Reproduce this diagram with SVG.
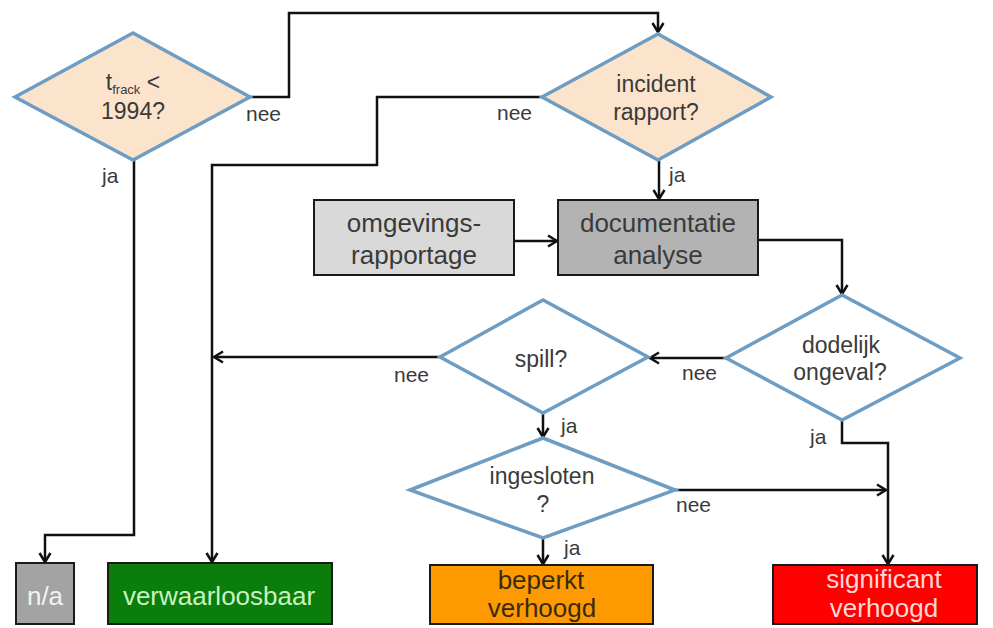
<svg xmlns="http://www.w3.org/2000/svg" width="993" height="628" viewBox="0 0 993 628">
  <style>
    text { font-family: "Liberation Sans", Arial, sans-serif; fill: #3a3a3a; }
    .dq { fill: #fce4cc; stroke: #6e9dc4; stroke-width: 3.5; stroke-linejoin: miter; }
    .dw { fill: #ffffff; stroke: #6e9dc4; stroke-width: 3.5; stroke-linejoin: miter; }
    .box { stroke: #1a1a1a; stroke-width: 2; }
    .dt { font-size: 23px; text-anchor: middle; }
    .bt { font-size: 26px; text-anchor: middle; }
    .lbl { font-size: 21px; }
    .conn path { fill: none; stroke: #111111; stroke-width: 2.5; marker-end: url(#arrow); }
  </style>
  <defs>
    <marker id="arrow" markerUnits="userSpaceOnUse" markerWidth="14" markerHeight="14" viewBox="0 0 14 14" refX="11" refY="7" orient="auto">
      <path d="M2,1.5 L11,7 L2,12.5" fill="none" stroke="#111111" stroke-width="2.5"/>
    </marker>
  </defs>

  <rect width="993" height="628" fill="#ffffff"/>

  <!-- connectors -->
  <g id="connectors" class="conn">
    <path d="M250,97 H289 V13 H658 V32"/>
    <path d="M542,97 H377 V165 H212 V562"/>
    <path d="M134,160 V535 H45 V562"/>
    <path d="M659,160 V199"/>
    <path d="M514,241 H557"/>
    <path d="M758,240 H842 V294"/>
    <path d="M726,358 H650"/>
    <path d="M440,357 H214"/>
    <path d="M543,413 V437"/>
    <path d="M675,490 H886"/>
    <path d="M543,538 V564"/>
    <path d="M842,420 V443 H888 V564"/>
  </g>

  <!-- connector labels -->
  <g id="labels">
    <text class="lbl" x="246" y="121">nee</text>
    <text class="lbl" x="102" y="183">ja</text>
    <text class="lbl" x="497" y="120">nee</text>
    <text class="lbl" x="669" y="182">ja</text>
    <text class="lbl" x="394" y="382">nee</text>
    <text class="lbl" x="561" y="433">ja</text>
    <text class="lbl" x="682" y="380">nee</text>
    <text class="lbl" x="810" y="444">ja</text>
    <text class="lbl" x="676" y="512">nee</text>
    <text class="lbl" x="564" y="555">ja</text>
  </g>

  <!-- decisions -->
  <g id="tfrack">
    <polygon class="dq" points="15,97 133,33 250,97 133,160"/>
    <text class="dt" x="133" y="90">t<tspan font-size="13" dy="4">frack</tspan><tspan dy="-4"> &lt;</tspan></text>
    <text class="dt" x="133" y="119">1994?</text>
  </g>
  <g id="incident">
    <polygon class="dq" points="542,97 658,34 771,97 658,160"/>
    <text class="dt" x="656" y="92">incident</text>
    <text class="dt" x="656" y="120">rapport?</text>
  </g>
  <g id="dodelijk">
    <polygon class="dw" points="726,358 842,295 960,358 842,420"/>
    <text class="dt" x="841" y="353">dodelijk</text>
    <text class="dt" x="840" y="380">ongeval?</text>
  </g>
  <g id="spill">
    <polygon class="dw" points="440,357 543,300 648,357 543,413"/>
    <text class="dt" x="541" y="367">spill?</text>
  </g>
  <g id="ingesloten">
    <polygon class="dw" points="410,490 543,438 675,490 543,538"/>
    <text class="dt" x="542" y="484">ingesloten</text>
    <text class="dt" x="543" y="512">?</text>
  </g>

  <!-- process boxes -->
  <g id="omgevings">
    <rect class="box" x="314" y="200" width="200" height="75" fill="#d9d9d9"/>
    <text class="bt" x="414" y="232">omgevings-</text>
    <text class="bt" x="414" y="264">rapportage</text>
  </g>
  <g id="documentatie">
    <rect class="box" x="558" y="200" width="200" height="75" fill="#b3b3b3"/>
    <text class="bt" x="658" y="232">documentatie</text>
    <text class="bt" x="658" y="264">analyse</text>
  </g>

  <!-- outcomes -->
  <g id="na">
    <rect class="box" x="16" y="563" width="58" height="61" fill="#a3a3a3"/>
    <text class="bt" x="45" y="605" style="fill:#f2f2f2">n/a</text>
  </g>
  <g id="verwaarloosbaar">
    <rect class="box" x="108" y="563" width="224" height="61" fill="#0b7d0b"/>
    <text class="bt" x="219" y="605" style="fill:#c8f2c0">verwaarloosbaar</text>
  </g>
  <g id="beperkt">
    <rect class="box" x="430" y="565" width="223" height="59" fill="#fd9a02"/>
    <text class="bt" x="541" y="589" style="fill:#3a2a10">beperkt</text>
    <text class="bt" x="542" y="617" style="fill:#3a2a10">verhoogd</text>
  </g>
  <g id="significant">
    <rect class="box" x="773" y="565" width="204" height="59" fill="#fe0000"/>
    <text class="bt" x="884" y="588" style="fill:#ffd6d6">significant</text>
    <text class="bt" x="884" y="617" style="fill:#ffd6d6">verhoogd</text>
  </g>
</svg>
